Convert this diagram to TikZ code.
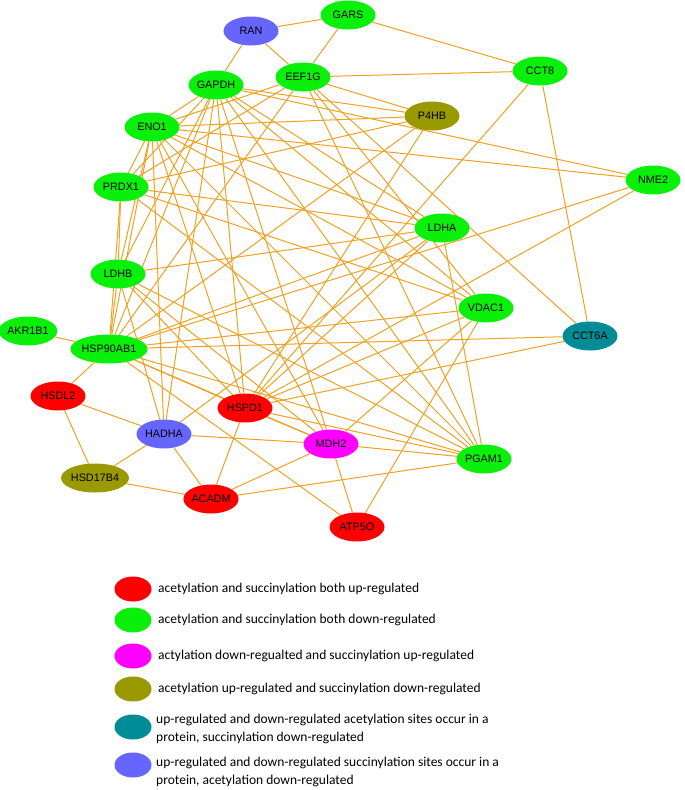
\documentclass[tikz,border=0pt]{standalone}
\usepackage{fontspec}
\setmainfont{Liberation Sans}
\newfontfamily\legfont{Carlito}
\usetikzlibrary{shapes.geometric}
\definecolor{cred}{RGB}{255,0,0}
\definecolor{cgreen}{RGB}{10,240,10}
\definecolor{cmag}{RGB}{255,0,255}
\definecolor{colive}{RGB}{153,153,0}
\definecolor{cteal}{RGB}{0,140,150}
\definecolor{cblue}{RGB}{102,102,255}
\definecolor{edgec}{RGB}{238,162,35}
\pgfdeclarelayer{bg}
\pgfsetlayers{bg,main}
\begin{document}
\begin{tikzpicture}[x=1pt,y=-1pt,
  nd/.style={ellipse, minimum width=55pt, minimum height=29pt, inner sep=0pt,
    font=\fontsize{10.8}{12}\selectfont},
  gn/.style={nd, fill=cgreen},
  rd/.style={nd, fill=cred},
  mg/.style={nd, fill=cmag},
  ol/.style={nd, fill=colive},
  tl/.style={nd, fill=cteal},
  bl/.style={nd, fill=cblue},
  ed/.style={draw=edgec, line width=1pt},
  lg/.style={ellipse, minimum width=37pt, minimum height=25pt, inner sep=0pt},
  lt/.style={anchor=west, inner sep=0pt, align=left,
    font=\legfont\fontsize{13.5}{18}\selectfont}]
\useasboundingbox (0,0) rectangle (685,790);

% nodes
\node[gn] (GARS) at (348,15) {GARS};
\node[bl] (RAN) at (251,31) {RAN};
\node[gn] (EEF1G) at (303,77) {EEF1G};
\node[gn] (GAPDH) at (216,85) {GAPDH};
\node[gn] (CCT8) at (540,71) {CCT8};
\node[ol] (P4HB) at (432,116) {P4HB};
\node[gn] (ENO1) at (152,127) {ENO1};
\node[gn] (PRDX1) at (121,187) {PRDX1};
\node[gn] (NME2) at (653,180) {NME2};
\node[gn] (LDHA) at (442,228) {LDHA};
\node[gn] (LDHB) at (118,274) {LDHB};
\node[gn] (VDAC1) at (486,308) {VDAC1};
\node[gn] (AKR1B1) at (28,331) {AKR1B1};
\node[tl] (CCT6A) at (590,336) {CCT6A};
\node[gn] (HSP90AB1) at (109,349) {HSP90AB1};
\node[rd] (HSDL2) at (58,396) {HSDL2};
\node[rd] (HSPD1) at (245,408) {HSPD1};
\node[bl] (HADHA) at (164,434) {HADHA};
\node[mg] (MDH2) at (331,444) {MDH2};
\node[gn] (PGAM1) at (484,459) {PGAM1};
\node[ol] (HSD17B4) at (95,478) {HSD17B4};
\node[rd] (ACADM) at (211,499) {ACADM};
\node[rd] (ATP5O) at (357,527) {ATP5O};

% edges
\begin{pgfonlayer}{bg}
\fill[white] (0,0) rectangle (685,790);
\foreach \a/\b in {RAN/GARS, RAN/GAPDH, RAN/EEF1G, GARS/EEF1G, GARS/CCT8, EEF1G/CCT8,
  CCT8/CCT6A, CCT8/HSPD1,
  EEF1G/P4HB, EEF1G/ENO1, EEF1G/PRDX1, EEF1G/HSP90AB1, EEF1G/PGAM1, EEF1G/VDAC1, EEF1G/CCT6A,
  GAPDH/ENO1, GAPDH/PRDX1, GAPDH/LDHB, GAPDH/HSP90AB1, GAPDH/HADHA, GAPDH/HSPD1,
  GAPDH/MDH2, GAPDH/PGAM1, GAPDH/VDAC1, GAPDH/LDHA, GAPDH/P4HB, GAPDH/NME2,
  ENO1/P4HB, ENO1/NME2, ENO1/PRDX1, ENO1/LDHB, ENO1/HSP90AB1, ENO1/HADHA, ENO1/HSPD1,
  ENO1/MDH2, ENO1/PGAM1, ENO1/VDAC1, ENO1/LDHA,
  PRDX1/P4HB, PRDX1/LDHB, PRDX1/HSP90AB1, PRDX1/PGAM1, PRDX1/VDAC1, PRDX1/LDHA,
  LDHB/LDHA, LDHB/HSP90AB1, LDHB/PGAM1, LDHB/HSPD1, LDHB/MDH2, LDHB/HADHA,
  HSP90AB1/AKR1B1, HSP90AB1/HSDL2, HSP90AB1/P4HB, HSP90AB1/LDHA, HSP90AB1/NME2,
  HSP90AB1/VDAC1, HSP90AB1/CCT6A, HSP90AB1/HSPD1, HSP90AB1/PGAM1, HSP90AB1/ATP5O, HSP90AB1/MDH2,
  HSPD1/P4HB, HSPD1/LDHA, HSPD1/NME2, HSPD1/VDAC1, HSPD1/CCT6A, HSPD1/PGAM1, HSPD1/MDH2, HSPD1/ACADM,
  HADHA/HSDL2, HADHA/HSD17B4, HADHA/ACADM, HADHA/MDH2, HADHA/LDHA,
  HSDL2/HSD17B4, HSD17B4/ACADM,
  MDH2/ACADM, MDH2/ATP5O, MDH2/PGAM1, MDH2/VDAC1,
  ACADM/PGAM1, ATP5O/VDAC1, LDHA/PGAM1}
  \draw[ed] (\a) -- (\b);
\end{pgfonlayer}

% legend
\node[lg, fill=cred] (l1) at (133,589) {};
\node[lg, fill=cgreen] (l2) at (133,620) {};
\node[lg, fill=cmag] (l3) at (133,656) {};
\node[lg, fill=colive] (l4) at (133,689) {};
\node[lg, fill=cteal] (l5) at (133,727) {};
\node[lg, fill=cblue] (l6) at (133,765) {};
\node[lt] (t1) at (158,589) {acetylation and succinylation both up-regulated};
\node[lt] (t2) at (158,620) {acetylation and succinylation both down-regulated};
\node[lt] (t3) at (158,656) {actylation down-regualted and succinylation up-regulated};
\node[lt] (t4) at (158,689) {acetylation up-regulated and succinylation down-regulated};
\node[lt] (t5) at (156,729) {up-regulated and down-regulated acetylation sites occur in a\\protein, succinylation down-regulated};
\node[lt] (t6) at (156,772) {up-regulated and down-regulated succinylation sites occur in a\\protein, acetylation down-regulated};
\end{tikzpicture}
\end{document}
